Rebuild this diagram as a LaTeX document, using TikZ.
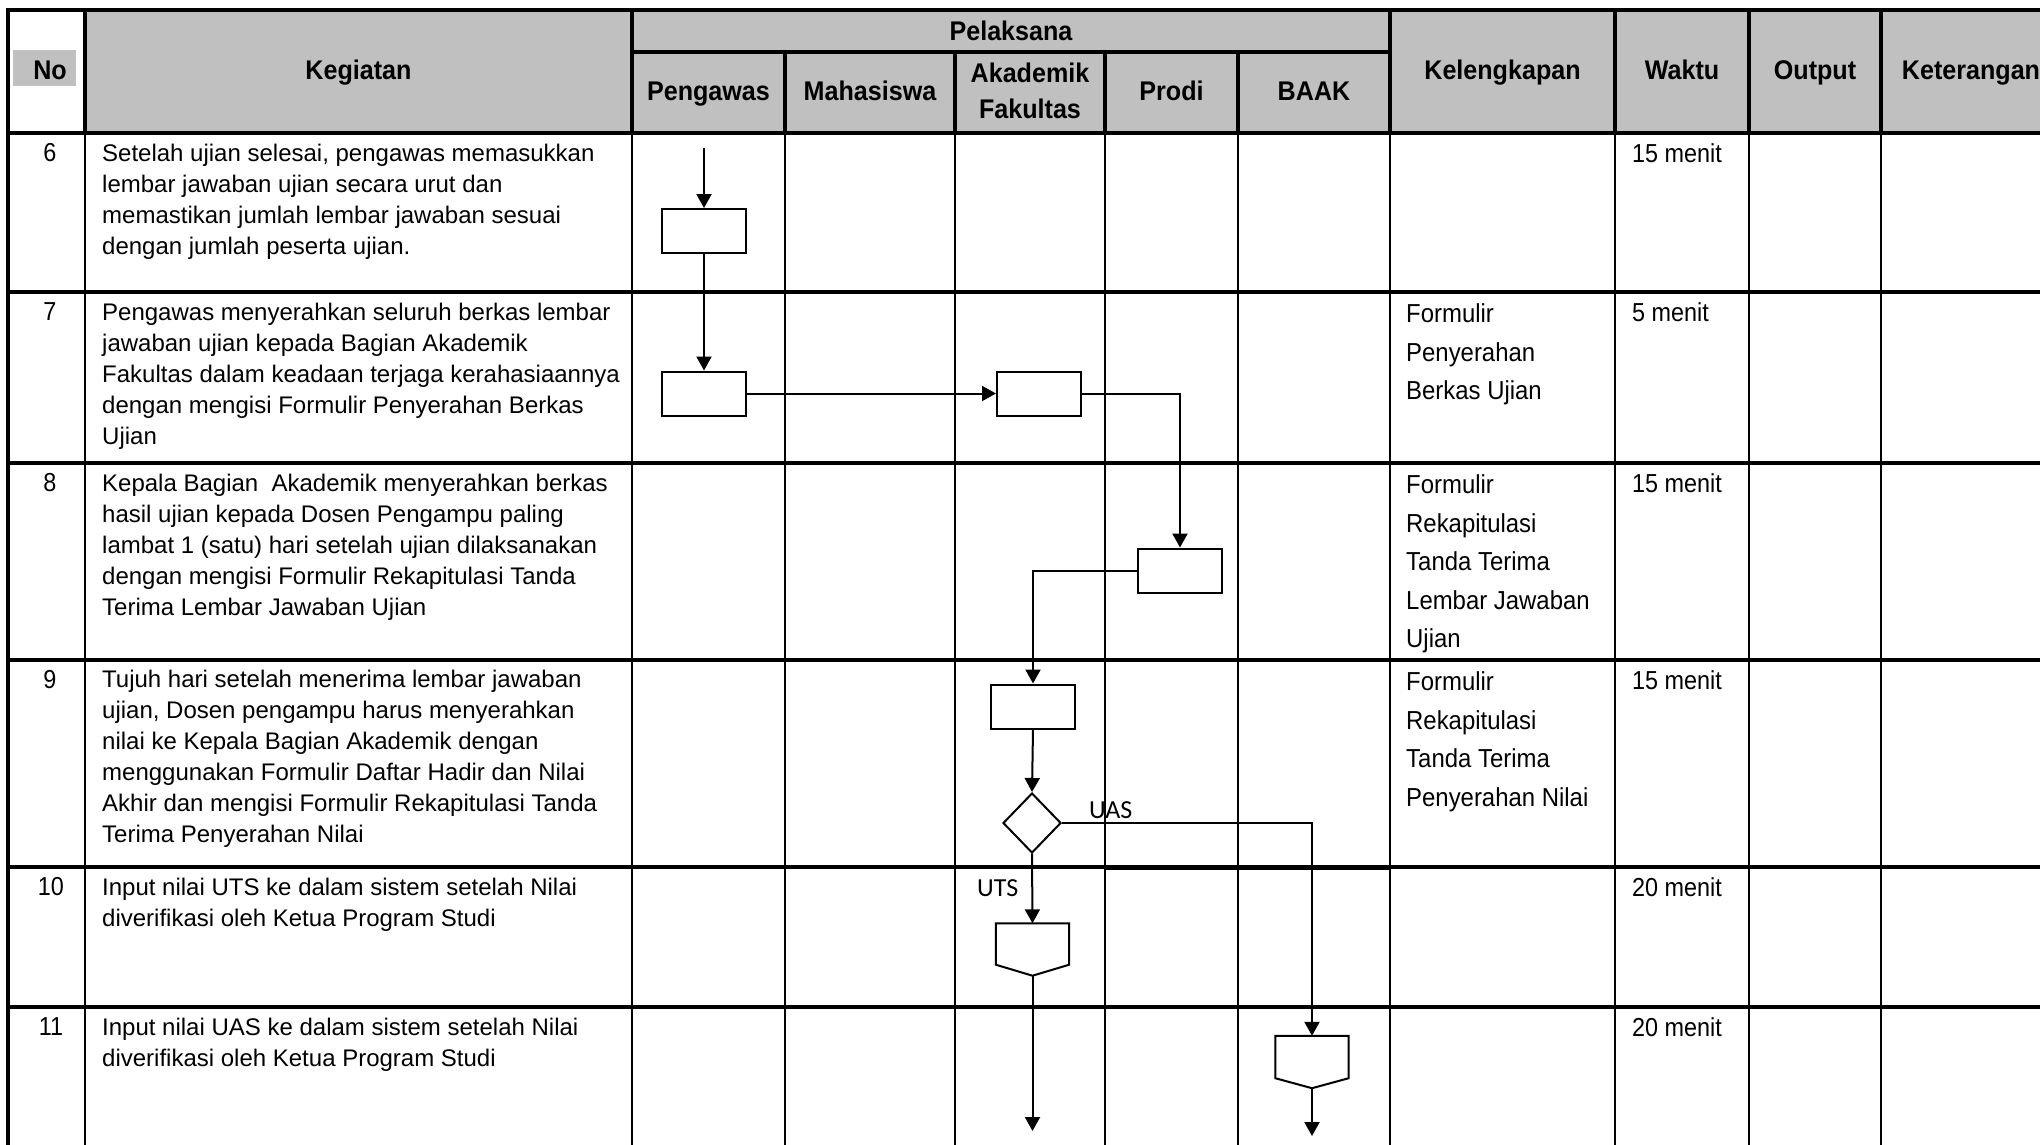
\documentclass[tikz,border=0pt]{standalone}
\usepackage{fontspec}
\setmainfont{Liberation Sans}
\newfontfamily\carlitofont{Carlito}
\newfontfamily\kelfont[FakeStretch=0.92]{Liberation Sans}
\newfontfamily\wakfont[FakeStretch=0.9]{Liberation Sans}
\newfontfamily\hdrfont[FakeStretch=0.93]{Liberation Sans}
\usetikzlibrary{arrows.meta,shapes.geometric}
\definecolor{hdrgray}{RGB}{192,192,192}
\begin{document}
\begin{tikzpicture}[x=1pt,y=-1pt,
  thickline/.style={line width=4pt},
  rowline/.style={line width=3.5pt},
  colline/.style={line width=2pt},
  hdr/.style={anchor=base, inner sep=0, font=\hdrfont\fontsize{27}{30}\selectfont\bfseries},
  body/.style={anchor=north west, inner sep=0, align=left, font=\fontsize{24}{31}\selectfont},
  numtext/.style={anchor=north, inner sep=0, font=\wakfont\fontsize{26}{31}\selectfont},
  kel/.style={anchor=north west, inner sep=0, align=left, font=\kelfont\fontsize{26}{38.5}\selectfont},
  wak/.style={anchor=north west, inner sep=0, align=left, font=\wakfont\fontsize{26}{31}\selectfont},
  proc/.style={draw, line width=2pt, minimum width=84pt, minimum height=44pt, inner sep=0},
  dec/.style={draw, diamond, line width=2pt, minimum width=58pt, minimum height=60pt, inner sep=0},
  conn/.style={minimum width=73pt, minimum height=52pt, inner sep=0},
  connshape/.style={line width=2pt, line join=miter},
  flow/.style={line width=2pt, -{Triangle[width=15pt,length=14pt]}},
  lbl/.style={anchor=base west, inner sep=0, font=\carlitofont\fontsize{26}{30}\selectfont},
]
\useasboundingbox (0,0) rectangle (2040,1144);
\clip (0,0) rectangle (2040,1144);

% header fills
\fill[hdrgray] (85,10) rectangle (2050,133);
\fill[hdrgray] (13,50) rectangle (76,86);

% grid
\foreach \x in {85,632,785,955,1105,1238,1390,1615,1749,1881}
  \draw[colline] (\x,133) -- (\x,1150);
\foreach \y in {292,463,660,867,1007}
  \draw[rowline] (8,\y) -- (2050,\y);
\draw[rowline] (1105,868.5) -- (1390,868.5);
\draw[thickline] (6,10) -- (2050,10);
\draw[thickline] (8,8) -- (8,1150);
\draw[thickline] (6,133) -- (2050,133);
\foreach \x in {85,632,1390,1615,1749,1881}
  \draw[thickline] (\x,10) -- (\x,133);
\draw[thickline] (632,52) -- (1390,52);
\foreach \x in {785,955,1105,1238}
  \draw[thickline] (\x,52) -- (\x,133);

% header texts
\node[hdr] (hNo) at (50,79) {No};
\node[hdr] (hKeg) at (358.5,79) {Kegiatan};
\node[hdr] (hPel) at (1011,40) {Pelaksana};
\node[hdr] (hPeng) at (708.5,100) {Pengawas};
\node[hdr] (hMah) at (870,100) {Mahasiswa};
\node[hdr, anchor=north, align=center, font=\hdrfont\fontsize{27}{36}\selectfont\bfseries] (hAka) at (1030,62) {\rule{0pt}{20pt}Akademik\\Fakultas};
\node[hdr] (hPro) at (1171.5,100) {Prodi};
\node[hdr] (hBaak) at (1314,100) {BAAK};
\node[hdr] (hKel) at (1502.5,79) {Kelengkapan};
\node[hdr] (hWak) at (1682,79) {Waktu};
\node[hdr] (hOut) at (1815,79) {Output};
\node[hdr] (hKet) at (1971,79) {Keterangan};

% row 6
\node[numtext] (n6) at (50,142) {\rule{0pt}{19pt}6};
\node[body] (k6) at (102,143) {\rule{0pt}{18pt}Setelah ujian selesai, pengawas memasukkan\\lembar jawaban ujian secara urut dan\\memastikan jumlah lembar jawaban sesuai\\dengan jumlah peserta ujian.};
\node[wak] (w6) at (1632,143) {\rule{0pt}{19pt}15 menit};

% row 7
\node[numtext] (n7) at (50,301) {\rule{0pt}{19pt}7};
\node[body] (k7) at (102,302) {\rule{0pt}{18pt}Pengawas menyerahkan seluruh berkas lembar\\jawaban ujian kepada Bagian Akademik\\Fakultas dalam keadaan terjaga kerahasiaannya\\dengan mengisi Formulir Penyerahan Berkas\\Ujian};
\node[kel] (l7) at (1406,303.5) {\rule{0pt}{19pt}Formulir\\Penyerahan\\Berkas Ujian};
\node[wak] (w7) at (1632,302) {\rule{0pt}{19pt}5 menit};

% row 8
\node[numtext] (n8) at (50,472) {\rule{0pt}{19pt}8};
\node[body] (k8) at (102,473) {\rule{0pt}{18pt}Kepala Bagian\ \ Akademik menyerahkan berkas\\hasil ujian kepada Dosen Pengampu paling\\lambat 1 (satu) hari setelah ujian dilaksanakan\\dengan mengisi Formulir Rekapitulasi Tanda\\Terima Lembar Jawaban Ujian};
\node[kel] (l8) at (1406,474.5) {\rule{0pt}{19pt}Formulir\\Rekapitulasi\\Tanda Terima\\Lembar\ Jawaban\\Ujian};
\node[wak] (w8) at (1632,473) {\rule{0pt}{19pt}15 menit};

% row 9
\node[numtext] (n9) at (50,669) {\rule{0pt}{19pt}9};
\node[body] (k9) at (102,669) {\rule{0pt}{18pt}Tujuh hari setelah menerima lembar jawaban\\ujian, Dosen pengampu harus menyerahkan\\nilai ke Kepala Bagian Akademik dengan\\menggunakan Formulir Daftar Hadir dan Nilai\\Akhir dan mengisi Formulir Rekapitulasi Tanda\\Terima Penyerahan Nilai};
\node[kel] (l9) at (1406,671.5) {\rule{0pt}{19pt}Formulir\\Rekapitulasi\\Tanda Terima\\Penyerahan\ Nilai};
\node[wak] (w9) at (1632,670) {\rule{0pt}{19pt}15 menit};

% row 10
\node[numtext] (n10) at (51,876) {\rule{0pt}{19pt}10};
\node[body] (k10) at (102,877) {\rule{0pt}{18pt}Input nilai UTS ke dalam sistem setelah Nilai\\diverifikasi oleh Ketua Program Studi};
\node[wak] (w10) at (1632,877) {\rule{0pt}{19pt}20 menit};

% row 11
\node[numtext] (n11) at (51,1016) {\rule{0pt}{19pt}11};
\node[body] (k11) at (102,1017) {\rule{0pt}{18pt}Input nilai UAS ke dalam sistem setelah Nilai\\diverifikasi oleh Ketua Program Studi};
\node[wak] (w11) at (1632,1017) {\rule{0pt}{19pt}20 menit};

% flowchart
\coordinate (s0) at (704,148);
\node[proc] (b1) at (704,231) {};
\node[proc] (b2) at (704,393.5) {};
\node[proc] (b3) at (1039,393.5) {};
\node[proc] (b4) at (1180,570.5) {};
\node[proc] (b5) at (1033,706.5) {};
\node[dec] (d1) at (1032,823) {};
\node[conn] (p1) at (1032.5,949.5) {};
\node[conn] (p2) at (1312,1062) {};
\coordinate (e1) at (1032.5,1131);
\coordinate (e2) at (1312,1136);

\draw[connshape] (p1.north west) -- (p1.north east) -- ([yshift=11pt]p1.south east) -- (p1.south) -- ([yshift=11pt]p1.south west) -- cycle;
\draw[connshape] (p2.north west) -- (p2.north east) -- ([yshift=10pt]p2.south east) -- (p2.south) -- ([yshift=10pt]p2.south west) -- cycle;

\draw[flow] (s0) -- (b1.north);
\draw[flow] (b1.south) -- (b2.north);
\draw[flow] (b2.east) -- (b3.west);
\draw[flow] (b3.east) -| (b4.north);
\draw[flow] (b4.west) -| (b5.north);
\draw[flow] (b5.south) -- (d1.north);
\draw[flow] (d1.south) -- (p1.north);
\draw[flow] (d1.east) -| (p2.north);
\draw[flow] (p1.south) -- (e1);
\draw[flow] (p2.south) -- (e2);

\node[lbl] (uas) at (1089,818) {UAS};
\node[lbl] (uts) at (977,896) {UTS};
\end{tikzpicture}
\end{document}
